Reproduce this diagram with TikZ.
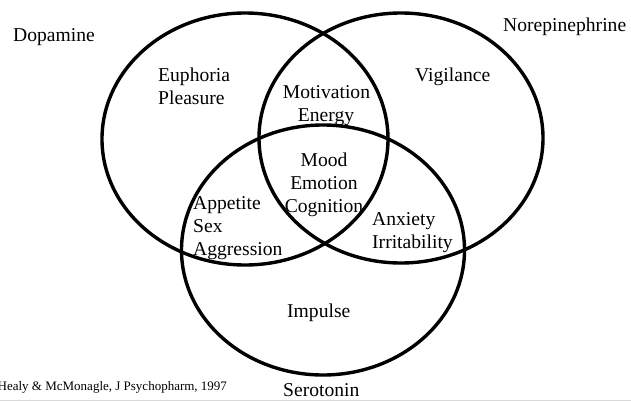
\documentclass[tikz,border=0pt]{standalone}
\usepackage{fontspec}
\setmainfont{Liberation Serif}
\usetikzlibrary{shapes.geometric}

\tikzset{
  ring/.style={ellipse, draw=black, line width=3.4pt, inner sep=0pt},
  lbl/.style={inner sep=0pt, font=\fontsize{19.6pt}{22.7pt}\selectfont},
  cite/.style={inner sep=0pt, font=\fontsize{13pt}{15pt}\selectfont},
}

\begin{document}
\begin{tikzpicture}[x=1pt, y=-1pt]
  \useasboundingbox (0,0) rectangle (631,401);

  % the three neurotransmitter systems
  \node[ring, minimum width=286pt, minimum height=252pt] (dopa) at (245,139) {};
  \node[ring, minimum width=284pt, minimum height=250pt] (nore) at (401,138) {};
  \node[ring, minimum width=283pt, minimum height=250pt] (sero) at (323,250) {};

  % system names
  \node[lbl, anchor=base west] (tdopa) at (13,42) {Dopamine};
  \node[lbl, anchor=base west] (tnore) at (503,32) {Norepinephrine};
  \node[lbl, anchor=base west] (tsero) at (283,396) {Serotonin};

  % dopamine only
  \node[lbl, anchor=base west] (eup) at (158,82) {Euphoria};
  \node[lbl, anchor=base west] (ple) at (158,104.5) {Pleasure};

  % norepinephrine only
  \node[lbl, anchor=base west] (vig) at (415,82) {Vigilance};

  % dopamine + norepinephrine
  \node[lbl, anchor=base] (mot) at (326.5,99) {Motivation};
  \node[lbl, anchor=base] (ene) at (326,121.5) {Energy};

  % all three
  \node[lbl, anchor=base] (moo) at (324,166) {Mood};
  \node[lbl, anchor=base] (emo) at (324,189) {Emotion};
  \node[lbl, anchor=base] (cog) at (324,212) {Cognition};

  % dopamine + serotonin
  \node[lbl, anchor=base west] (app) at (193,209) {Appetite};
  \node[lbl, anchor=base west] (sex) at (193,232) {Sex};
  \node[lbl, anchor=base west] (agg) at (193,255.5) {Aggression};

  % norepinephrine + serotonin
  \node[lbl, anchor=base west] (anx) at (372,225.5) {Anxiety};
  \node[lbl, anchor=base west] (irr) at (372,248.5) {Irritability};

  % serotonin only
  \node[lbl, anchor=base west] (imp) at (287,317) {Impulse};

  % source
  \node[cite, anchor=base west] (src) at (-2.5,390) {Healy \& McMonagle, J Psychopharm, 1997};

  % bottom edge rule
  \draw[black!15, line width=1pt] (0,400.5) -- (631,400.5);
\end{tikzpicture}
\end{document}
